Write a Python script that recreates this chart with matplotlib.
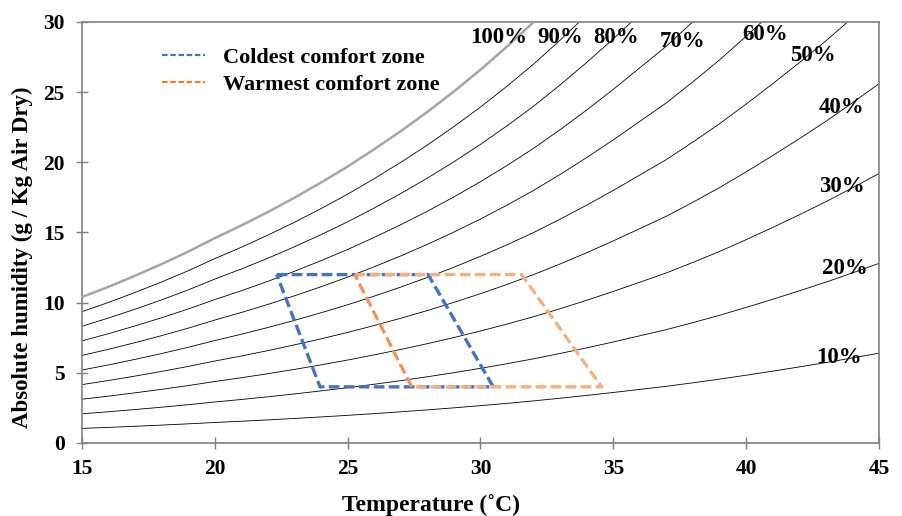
import matplotlib
matplotlib.use("Agg")
import matplotlib.pyplot as plt
from matplotlib.lines import Line2D
import numpy as np

# saturation absolute humidity (g/kg), 15..45 C
temps = list(range(15, 46))
sat_hum = [10.4, 11.13, 11.92, 12.75, 13.64, 14.6, 15.5, 16.46, 17.48, 18.56,
           19.7, 20.93, 22.22, 23.59, 25.05, 26.6, 28.25, 30.0, 31.9, 33.9,
           36.0, 38.2, 40.4, 42.9, 45.5, 48.3, 51.2, 54.2, 57.3, 60.6, 64.0]
rh_levels = [10, 20, 30, 40, 50, 60, 70, 80, 90]

# rh label positions (temp, humidity)
rh_label_pos = {100: (30.7, 28.9), 90: (33.0, 28.9), 80: (35.1, 28.9),
                70: (37.6, 28.6), 60: (40.7, 29.1), 50: (42.5, 27.6),
                40: (43.6, 23.9), 30: (43.6, 18.3), 20: (43.7, 12.4),
                10: (43.5, 6.1)}

# comfort zones (temp, humidity) corners
cold_t = [22.33, 28.03, 30.48, 23.96, 22.33]
cold_h = [12, 12, 4, 4, 12]
warm_t = [25.27, 31.55, 34.56, 27.41]
warm_h = [12, 12, 4, 4]

plt.rcParams['font.family'] = ['Liberation Serif', 'DejaVu Serif']
plt.rcParams['font.weight'] = 'bold'

fig = plt.figure(figsize=(9.03, 5.16), dpi=100)
ax = fig.add_axes([0.0908, 0.1415, 0.8826, 0.8159])

t = np.array(temps)
sat = np.array(sat_hum)
for rh in rh_levels:
    ax.plot(t, sat * rh / 100.0, color='black', lw=0.6, zorder=2)
ax.plot(t, sat, color='#A6A6A6', lw=1.8, zorder=3)

for rh, (x, y) in rh_label_pos.items():
    ax.text(x, y, f"{rh}%", fontsize=16.5, fontweight='bold', ha='center',
            va='center', zorder=5)

dash = (3.2, 1.3)
ax.plot(cold_t, cold_h, color='#4472C4', lw=2.4, dashes=dash, zorder=4)
# warm zone: top, right and bottom lighter, left edge darker
ax.plot(warm_t, warm_h, color='#F4B183', lw=2.4, dashes=dash, zorder=4)
ax.plot([warm_t[3], warm_t[0]], [warm_h[3], warm_h[0]], color='#F0975C',
        lw=2.4, dashes=dash, zorder=4)

handles = [Line2D([0], [0], color='#4472C4', lw=1.6, dashes=(2.5, 1.2)),
           Line2D([0], [0], color='#ED7D31', lw=1.6, dashes=(2.5, 1.2))]
ax.legend(handles, ['Coldest comfort zone', 'Warmest comfort zone'],
          loc='upper left', bbox_to_anchor=(0.1, 0.94), frameon=False,
          handlelength=1.95, handletextpad=0.8,
          labelspacing=0.28, borderpad=0, borderaxespad=0,
          prop={'weight': 'bold', 'size': 16})

ax.set_xlim(15, 45)
ax.set_ylim(0, 30)
ax.set_xticks(range(15, 46, 5))
ax.set_yticks(range(0, 31, 5))
ax.tick_params(direction='inout', length=9, width=1, color='#808080',
               labelsize=15.5)
ax.tick_params(axis='x', pad=7)
ax.tick_params(axis='y', pad=8)
for lab in ax.get_xticklabels() + ax.get_yticklabels():
    lab.set_fontweight('bold')
for sp in ax.spines.values():
    sp.set_color('#808080')
    sp.set_linewidth(1.2)

ax.set_xlabel('Temperature (˚C)', fontsize=17, fontweight='bold')
ax.set_ylabel('Absolute humidity (g / Kg Air Dry)', fontsize=16.5,
              fontweight='bold')
ax.xaxis.set_label_coords(0.438, -0.122)
ax.yaxis.set_label_coords(-0.075, 0.44)
ax.yaxis.label.set_va('center')

fig.savefig('out.png', dpi=100)
